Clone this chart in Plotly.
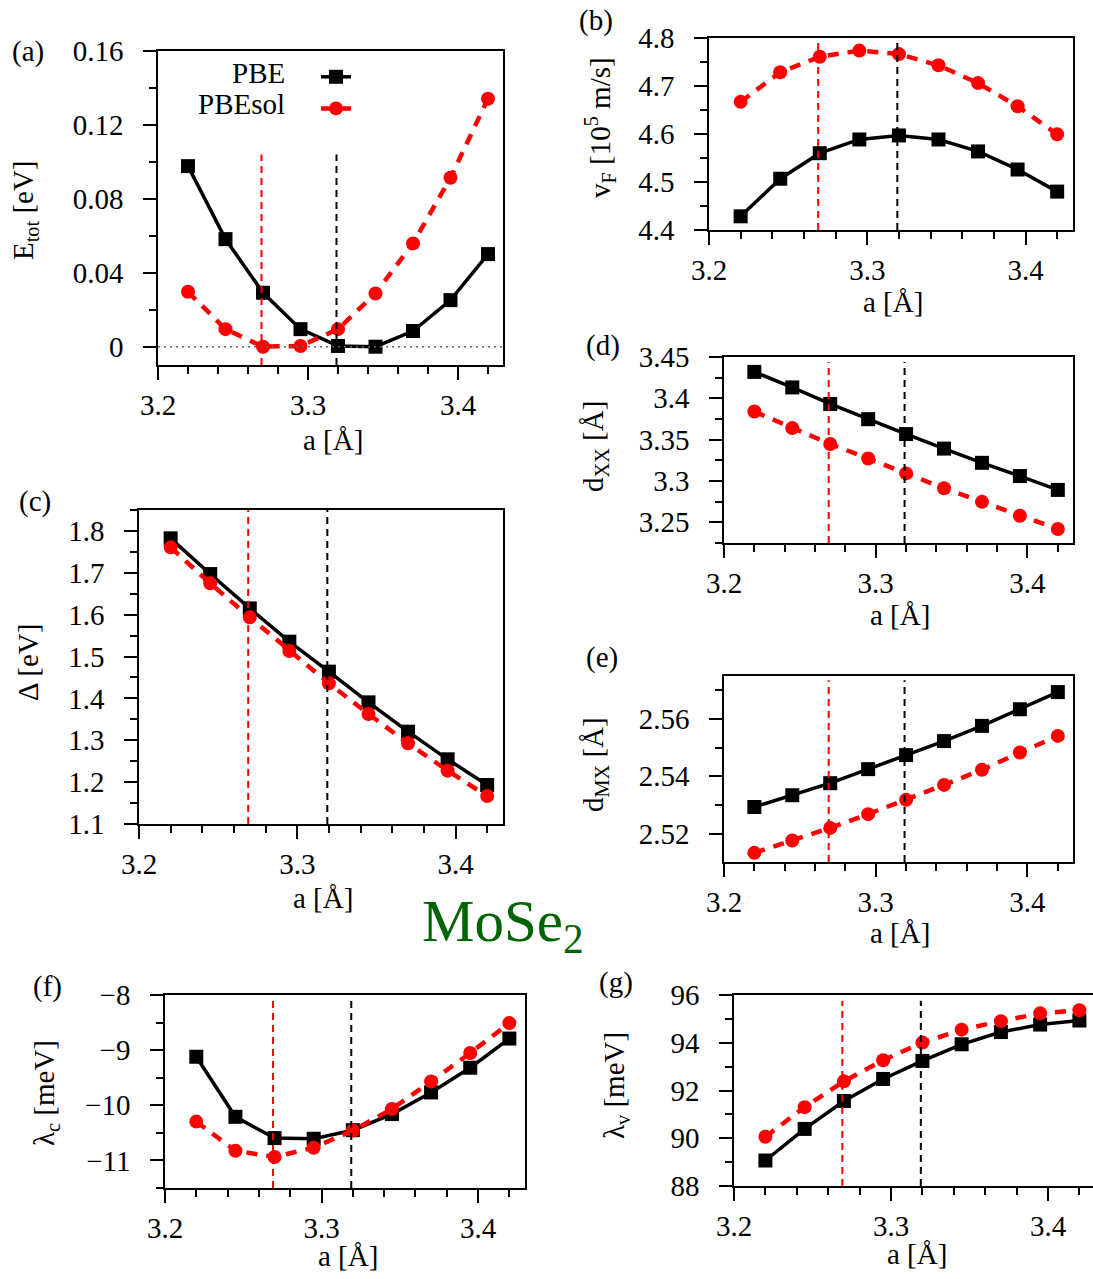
import plotly.graph_objects as go

W, H = 1093, 1279

# ---------------- data ----------------
a_vals = [3.22, 3.245, 3.27, 3.295, 3.32, 3.345, 3.37, 3.395, 3.42]
a0_pbe = 3.319
a0_pbesol = 3.269

etot_pbe = [0.0977, 0.0582, 0.0292, 0.0095, 0.0004, 0.0, 0.0085, 0.0252, 0.0501]
etot_pbesol = [0.0297, 0.0095, 0.0, 0.0004, 0.0095, 0.0288, 0.0559, 0.0914, 0.1342]

vf_pbe = [4.4285, 4.5068, 4.5600, 4.5886, 4.5970, 4.5886, 4.5637, 4.5260, 4.4800]
vf_pbesol = [4.6670, 4.7288, 4.7609, 4.7737, 4.7665, 4.7431, 4.7060, 4.6577, 4.5993]

gap_pbe = [1.7823, 1.6970, 1.6150, 1.5355, 1.4639, 1.3906, 1.3205, 1.2545, 1.1932]
gap_pbesol = [1.7608, 1.6748, 1.5936, 1.5132, 1.4360, 1.3627, 1.2927, 1.2274, 1.1669]

dxx_pbe = [3.4320, 3.4132, 3.3932, 3.3748, 3.3568, 3.3392, 3.3220, 3.3060, 3.2892]
dxx_pbesol = [3.3840, 3.3640, 3.3448, 3.3272, 3.3092, 3.2912, 3.2748, 3.2580, 3.2420]

dmx_pbe = [2.5293, 2.5334, 2.5376, 2.5425, 2.5474, 2.5523, 2.5576, 2.5634, 2.5694]
dmx_pbesol = [2.5133, 2.5176, 2.5220, 2.5268, 2.5318, 2.5370, 2.5423, 2.5483, 2.5541]

lc_pbe = [-9.12, -10.209, -10.595, -10.607, -10.452, -10.16, -9.767, -9.319, -8.79]
lc_pbesol = [-10.296, -10.825, -10.937, -10.769, -10.458, -10.066, -9.568, -9.052, -8.51]

lv_pbe = [89.068, 90.391, 91.559, 92.484, 93.238, 93.936, 94.448, 94.762, 94.932]
lv_pbesol = [90.064, 91.303, 92.384, 93.267, 94.007, 94.548, 94.904, 95.231, 95.359]

series_names = ["PBE", "PBEsol"]
panel_letters = ["(a)", "(b)", "(c)", "(d)", "(e)", "(f)", "(g)"]
y_titles = ["E<sub>tot</sub> [eV]", "v<sub>F</sub> [10<sup>5</sup> m/s]", "Δ [eV]",
            "d<sub>XX</sub> [Å]", "d<sub>MX</sub> [Å]", "λ<sub>c</sub> [meV]", "λ<sub>v</sub> [meV]"]
x_title = "a [Å]"
label_text = "MoSe<sub>2</sub>"

# ---------------- layout geometry (pixels) ----------------
panels = [
    dict(pbe=etot_pbe, sol=etot_pbesol, box=(158, 503, 51, 365), yr=[-0.0099, 0.16], dt=0.04, mn=0.02,
         vtop=0.104, fmt=None),
    dict(pbe=vf_pbe, sol=vf_pbesol, box=(709, 1073, 38, 230), yr=[4.4, 4.8], dt=0.1, mn=0.05,
         vtop=4.79, fmt=".1f"),
    dict(pbe=gap_pbe, sol=gap_pbesol, box=(139, 503, 510, 824), yr=[1.1, 1.85], dt=0.1, mn=0.05,
         vtop=1.85, fmt=".1f"),
    dict(pbe=dxx_pbe, sol=dxx_pbesol, box=(724, 1073, 357, 543), yr=[3.225, 3.45], dt=0.05, mn=0.025,
         vtop=3.444, fmt=None),
    dict(pbe=dmx_pbe, sol=dmx_pbesol, box=(724, 1073, 676, 862), yr=[2.5101, 2.575], dt=0.02, mn=0.01,
         vtop=2.5735, fmt=".2f"),
    dict(pbe=lc_pbe, sol=lc_pbesol, box=(165, 525, 995, 1188), yr=[-11.5, -8], dt=1, mn=0.5,
         vtop=-8.106, fmt="d"),
    dict(pbe=lv_pbe, sol=lv_pbesol, box=(734, 1093, 995, 1186), yr=[88, 96], dt=2, mn=1,
         vtop=95.76, fmt="d"),
]
y_title_pos = [(25, 210), (600, 128), (28, 663), (595, 447), (595, 765), (46, 1093), (616, 1086)]
x_title_pos = [(333, 440), (893, 302), (323, 898), (900, 615), (900, 933), (348, 1256), (917, 1254)]
letter_pos = [(28, 52), (596, 20), (35, 502), (603, 345), (602, 657), (47, 986), (616, 982)]

FONT = "Liberation Serif"
FS = 29

fig = go.Figure()
shapes = []
annotations = []
layout = {}

for i, p in enumerate(panels):
    k = "" if i == 0 else str(i + 1)
    xa, ya = "x" + k, "y" + k
    left, right, top, bottom = p["box"]
    xr_end = 3.43 if i != 6 else 3.2 + (right - left) / 1570.0
    fig.add_trace(go.Scatter(
        x=a_vals, y=p["pbe"], xaxis=xa, yaxis=ya, mode="lines+markers",
        name="\u00a0", legendgroup="pbe", showlegend=(i == 0),
        line=dict(color="black", width=3.5),
        marker=dict(symbol="square", size=14, color="black")))
    fig.add_trace(go.Scatter(
        x=a_vals, y=p["sol"], xaxis=xa, yaxis=ya, mode="lines+markers",
        name="\u00a0\u00a0", legendgroup="sol", showlegend=(i == 0),
        line=dict(color="#ff0000", width=4.5, dash="11px,9px"),
        marker=dict(symbol="circle", size=14, color="#ff0000")))

    layout["xaxis" + k] = dict(
        domain=[left / W, right / W], anchor=ya, range=[3.2, xr_end], automargin=False,
        tickmode="linear", tick0=3.2, dtick=0.1, tickformat=".1f",
        ticks="outside", ticklen=13, tickwidth=1.5, tickcolor="black",
        minor=dict(ticks="outside", ticklen=7, tickwidth=1.5, tickcolor="black", dtick=0.02, tick0=3.2),
        showline=True, linecolor="black", linewidth=1.5, mirror=True,
        showgrid=False, zeroline=False,
        tickfont=dict(family=FONT, size=FS, color="black"))
    yax = dict(
        domain=[1 - bottom / H, 1 - top / H], anchor=xa, range=p["yr"], automargin=False,
        tickmode="linear", tick0=0, dtick=p["dt"],
        ticks="outside", ticklen=13, tickwidth=1.5, tickcolor="black",
        minor=dict(ticks="outside", ticklen=7, tickwidth=1.5, tickcolor="black", dtick=p["mn"], tick0=0),
        showline=True, linecolor="black", linewidth=1.5, mirror=True,
        showgrid=False, zeroline=False, ticklabelstandoff=14,
        tickfont=dict(family=FONT, size=FS, color="black"))
    if p["fmt"]:
        yax["tickformat"] = p["fmt"]
    layout["yaxis" + k] = yax

    # vertical dashed reference lines (equilibrium lattice constants)
    for xv, col in ((a0_pbesol, "#ff0000"), (a0_pbe, "black")):
        shapes.append(dict(type="line", xref=xa, yref=ya, x0=xv, x1=xv,
                           y0=p["yr"][0], y1=p["vtop"],
                           line=dict(color=col, width=2, dash="7px,5px")))

    tx, ty = y_title_pos[i]
    annotations.append(dict(text=y_titles[i], x=tx / W, y=1 - ty / H, xref="paper", yref="paper",
                            textangle=-90, showarrow=False, xanchor="center", yanchor="middle",
                            font=dict(family=FONT, size=FS, color="black")))
    tx, ty = x_title_pos[i]
    annotations.append(dict(text=x_title, x=tx / W, y=1 - ty / H, xref="paper", yref="paper",
                            showarrow=False, xanchor="center", yanchor="middle",
                            font=dict(family=FONT, size=FS, color="black")))
    tx, ty = letter_pos[i]
    annotations.append(dict(text=panel_letters[i], x=tx / W, y=1 - ty / H, xref="paper", yref="paper",
                            showarrow=False, xanchor="center", yanchor="middle",
                            font=dict(family=FONT, size=FS, color="black")))

# dotted zero line in (a)
shapes.append(dict(type="line", xref="x domain", yref="y", x0=0, x1=1, y0=0, y1=0,
                   line=dict(color="#666666", width=1.5, dash="2px,4px")))

# legend text (left of the keys)
annotations.append(dict(text=series_names[0], x=287 / W, y=1 - 73 / H, xref="paper", yref="paper",
                        showarrow=False, xanchor="right", yanchor="middle",
                        font=dict(family=FONT, size=FS, color="black")))
annotations.append(dict(text=series_names[1], x=287 / W, y=1 - 104 / H, xref="paper", yref="paper",
                        showarrow=False, xanchor="right", yanchor="middle",
                        font=dict(family=FONT, size=FS, color="black")))

# compound label
annotations.append(dict(text=label_text, x=503 / W, y=1 - 925 / H, xref="paper", yref="paper",
                        showarrow=False, xanchor="center", yanchor="middle",
                        font=dict(family=FONT, size=59, color="#006400")))

fig.update_layout(
    template="none",
    width=W, height=H, margin=dict(l=0, r=0, t=0, b=0, autoexpand=False),
    paper_bgcolor="white", plot_bgcolor="white",
    font=dict(family=FONT, size=FS, color="black"),
    shapes=shapes, annotations=annotations,
    legend=dict(x=316 / W, y=1 - 56 / H, xanchor="left", yanchor="top",
                bgcolor="rgba(0,0,0,0)", font=dict(family=FONT, size=22),
                itemwidth=30, tracegroupgap=0),
    **layout)

fig.write_html("out.html")
